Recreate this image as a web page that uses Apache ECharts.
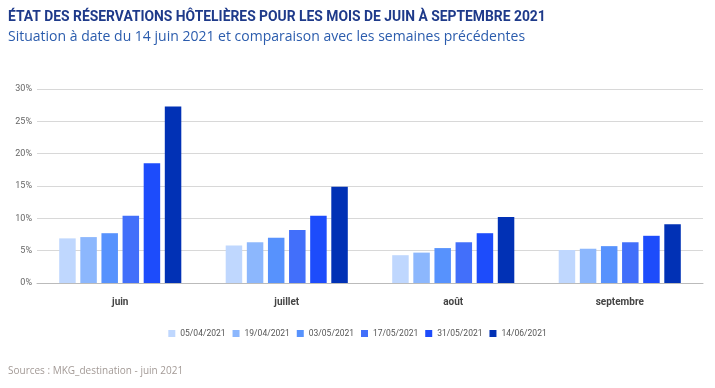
<!DOCTYPE html>
<html><head><meta charset="utf-8">
<script src="https://cdn.jsdelivr.net/npm/echarts@6/dist/echarts.min.js"></script>
<style>html,body{margin:0;padding:0;background:#fff}#c{width:715px;height:388px}</style>
</head><body><div id="c"></div>
<script>
const categories = ['juin', 'juillet', 'août', 'septembre'];
const seriesNames = ['05/04/2021', '19/04/2021', '03/05/2021', '17/05/2021', '31/05/2021', '14/06/2021'];
const s0504 = [6.9, 5.8, 4.3, 5.1];
const s1904 = [7.1, 6.3, 4.7, 5.3];
const s0305 = [7.7, 7.0, 5.4, 5.7];
const s1705 = [10.4, 8.2, 6.3, 6.3];
const s3105 = [18.5, 10.4, 7.7, 7.3];
const s1406 = [27.3, 14.9, 10.2, 9.1];
const yTicks = [0, 5, 10, 15, 20, 25, 30];
const colors = ['#bfd7fe', '#8cb7fd', '#5792fd', '#426ffa', '#1d4cfb', '#0131b5'];
const values = [s0504, s1904, s0305, s1705, s3105, s1406];

const chart = echarts.init(document.getElementById('c'), null, {renderer: 'canvas'});
chart.setOption({
  animation: false,
  textStyle: {fontFamily: 'Roboto'},
  graphic: [
    {type: 'text', left: 8, top: 10, scaleX: 0.99, style: {text: 'ÉTAT DES RÉSERVATIONS HÔTELIÈRES POUR LES MOIS DE JUIN À SEPTEMBRE 2021', fill: '#1e3a8a', font: 'bold 14px Roboto'}},
    {type: 'text', left: 8, top: 29, scaleX: 0.934, style: {text: 'Situation à date du 14 juin 2021 et comparaison avec les semaines précédentes', fill: '#2b5cad', font: '15px "Open Sans"'}},
    {type: 'text', left: 8, top: 366, style: {text: 'Sources : MKG_destination - juin 2021', fill: '#a39a96', font: '10px "Open Sans"'}}
  ],
  legend: {
    data: seriesNames, top: 324, left: 'center', itemWidth: 7, itemHeight: 7, itemGap: 7,
    icon: 'rect', textStyle: {fontSize: 8.5, color: '#555', fontFamily: 'Roboto', padding: [0, 0, 0, 0]}
  },
  grid: {left: 37, right: 12, top: 89, bottom: 105, containLabel: false},
  xAxis: {
    type: 'category', data: categories,
    axisLine: {show: true, lineStyle: {color: '#bbb'}}, axisTick: {show: false},
    axisLabel: {fontSize: 10, fontWeight: 'bold', color: '#444', margin: 14}
  },
  yAxis: {
    type: 'value', min: 0, max: 30, interval: 5,
    axisLine: {show: false}, axisTick: {show: false},
    axisLabel: {fontSize: 9, color: '#666', margin: 5, formatter: v => yTicks.includes(v) ? v + '%' : ''},
    splitLine: {lineStyle: {color: '#d8d8d8', width: 1}}
  },
  series: seriesNames.map((n, i) => ({
    name: n, type: 'bar', data: values[i], barWidth: 16.5, barGap: '28%',
    itemStyle: {color: colors[i]}
  }))
});
</script></body></html>
